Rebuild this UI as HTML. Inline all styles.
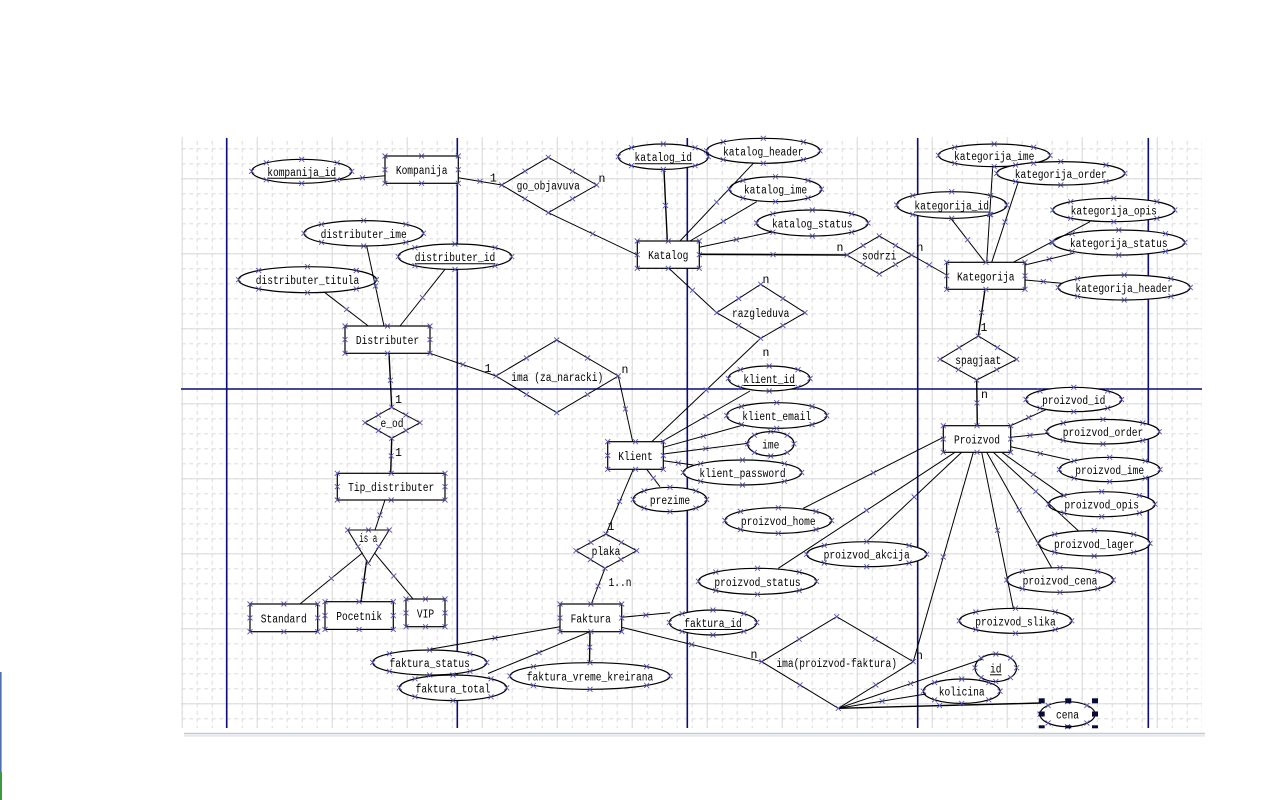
<!DOCTYPE html>
<html><head><meta charset="utf-8">
<style>
html,body{margin:0;padding:0;background:#fff;}
svg{display:block;}
text{font-family:"Liberation Mono","DejaVu Sans Mono",monospace;font-size:11.5px;fill:#000;}
.t{text-anchor:middle;}
.s{fill:#fff;stroke:#000;stroke-width:1.2;}
.dm{fill:none;stroke:#000;stroke-width:1;}
.c{stroke:#000;stroke-width:1;}
.bl{stroke:#0c0c78;stroke-width:1.6;}
.u{stroke:#000;stroke-width:1;}
</style></head>
<body>
<svg id="d" width="1280" height="800" viewBox="0 0 1280 800" xmlns="http://www.w3.org/2000/svg">
<defs>
<pattern id="gd" x="181.7" y="133.3" width="15" height="15" patternUnits="userSpaceOnUse">
<path d="M0 0.5H15" stroke="#dadada" stroke-width="1" stroke-dasharray="4 3.5"/>
<path d="M0.5 0V15" stroke="#dadada" stroke-width="1" stroke-dasharray="4 3.5"/>
</pattern>
<pattern id="gs" x="181.7" y="103.3" width="75" height="75" patternUnits="userSpaceOnUse">
<path d="M0 0.5H75M0.5 0V75" stroke="#dadada" stroke-width="1"/>
</pattern>
</defs>
<rect width="1280" height="800" fill="#fff"/>
<rect x="0" y="672" width="1.6" height="100" fill="#4f6fb0"/>
<rect x="0" y="772" width="2" height="28" fill="#3a9a3a"/>
<rect x="181" y="137" width="1021" height="591" fill="url(#gd)"/>
<rect x="181" y="137" width="1021" height="591" fill="url(#gs)"/>
<line x1="184" y1="733.5" x2="1205" y2="733.5" stroke="#c2cad6" stroke-width="1.5"/>
<line x1="184" y1="735.8" x2="1205" y2="735.8" stroke="#e6eaf0" stroke-width="2"/>
<line class="bl" x1="226.7" y1="138" x2="226.7" y2="728"/>
<line class="bl" x1="457.3" y1="138" x2="457.3" y2="728"/>
<line class="bl" x1="687.3" y1="138" x2="687.3" y2="728"/>
<line class="bl" x1="917.7" y1="138" x2="917.7" y2="728"/>
<line class="bl" x1="1148.3" y1="138" x2="1148.3" y2="728"/>
<line class="bl" x1="181" y1="389" x2="1202" y2="389"/>

<polygon class="dm" points="501.7,185 548.3,157.3 596.7,185 548.3,212.7"/>
<polygon class="dm" points="847,255 879.3,236 911.7,255 879.3,274"/>
<polygon class="dm" points="716.7,312.7 760.7,284.3 805,312.7 760.7,338.3"/>
<polygon class="dm" points="496,376 556.7,340 618.3,376 556.7,412.7"/>
<polygon class="dm" points="365,422.7 391.7,407.3 420,422.7 391.7,438.3"/>
<polygon class="dm" points="940,359.3 978.3,336 1016.7,359.3 976.7,380"/>
<polygon class="dm" points="576,550.7 606,534 636.7,550.7 605,568.3"/>
<polygon class="dm" points="761.7,661.7 836.7,616.7 913.3,661.7 838.3,708.3"/>
<polygon class="dm" points="347.7,530 389.3,530 368.3,563.3"/>

<rect class="s" x="385" y="156" width="73.3" height="27.3"/>
<rect class="s" x="345" y="326" width="85" height="27.3"/>
<rect class="s" x="337.3" y="473.3" width="107.7" height="26.7"/>
<rect class="s" x="250" y="604" width="67.7" height="27.7"/>
<rect class="s" x="325" y="601.7" width="68.3" height="27.7"/>
<rect class="s" x="406" y="599" width="39" height="27.7"/>
<rect class="s" x="637.3" y="241" width="62" height="27.3"/>
<rect class="s" x="946.7" y="262.3" width="78.3" height="27"/>
<rect class="s" x="607.7" y="441.7" width="55.6" height="27.6"/>
<rect class="s" x="560" y="604" width="61.7" height="27.7"/>
<rect class="s" x="943.3" y="425.7" width="67.4" height="26.6"/>

<ellipse class="s" cx="301.7" cy="171.3" rx="50" ry="12"/>
<ellipse class="s" cx="363.7" cy="233.3" rx="59.7" ry="12.7"/>
<ellipse class="s" cx="455" cy="256.7" rx="56.7" ry="12.7"/>
<ellipse class="s" cx="307.5" cy="279.7" rx="69" ry="13"/>
<ellipse class="s" cx="663.3" cy="156.7" rx="45" ry="12.7"/>
<ellipse class="s" cx="763.3" cy="150.8" rx="56.7" ry="12.5"/>
<ellipse class="s" cx="775.5" cy="189.2" rx="46" ry="12.5"/>
<ellipse class="s" cx="812.3" cy="223" rx="55.7" ry="13"/>
<ellipse class="s" cx="994.2" cy="155.3" rx="55.8" ry="11.3"/>
<ellipse class="s" cx="1060.8" cy="173.3" rx="64" ry="11.7"/>
<ellipse class="s" cx="951.7" cy="205" rx="55" ry="13.3"/>
<ellipse class="s" cx="1113.8" cy="210" rx="61" ry="11.7"/>
<ellipse class="s" cx="1118.8" cy="242.5" rx="66" ry="12.5"/>
<ellipse class="s" cx="1124.2" cy="287.5" rx="66" ry="12.5"/>
<ellipse class="s" cx="769.2" cy="378.5" rx="40.8" ry="12.5"/>
<ellipse class="s" cx="776.7" cy="415.5" rx="50" ry="12.8"/>
<ellipse class="s" cx="770.8" cy="443.8" rx="23.2" ry="12.2"/>
<ellipse class="s" cx="742.5" cy="472.5" rx="59.2" ry="12.5"/>
<ellipse class="s" cx="670" cy="499.5" rx="36.7" ry="12.2"/>
<ellipse class="s" cx="1073.8" cy="399.5" rx="47.8" ry="12.2"/>
<ellipse class="s" cx="1103" cy="431.7" rx="56.3" ry="12.3"/>
<ellipse class="s" cx="1109.7" cy="469.5" rx="50.3" ry="12.2"/>
<ellipse class="s" cx="1101.7" cy="504.2" rx="53.3" ry="12.5"/>
<ellipse class="s" cx="1094.2" cy="543.3" rx="55.8" ry="12.7"/>
<ellipse class="s" cx="1060" cy="580" rx="53.3" ry="12.3"/>
<ellipse class="s" cx="1015.5" cy="620.8" rx="56.2" ry="12.5"/>
<ellipse class="s" cx="778.3" cy="520.5" rx="53.3" ry="12.8"/>
<ellipse class="s" cx="866.7" cy="554.2" rx="60" ry="12.5"/>
<ellipse class="s" cx="757.5" cy="581.3" rx="59" ry="13"/>
<ellipse class="s" cx="713" cy="622.5" rx="43.7" ry="12.5"/>
<ellipse class="s" cx="429.7" cy="662.5" rx="57" ry="12.5"/>
<ellipse class="s" cx="453" cy="687.8" rx="53.7" ry="12.8"/>
<ellipse class="s" cx="590" cy="676" rx="80" ry="13.3"/>
<ellipse class="s" cx="995.8" cy="667.8" rx="20.8" ry="13.8"/>
<ellipse class="s" cx="961.7" cy="691.2" rx="38.3" ry="12.2"/>
<ellipse class="s" cx="1067.5" cy="714.2" rx="27.5" ry="12.5"/>

<line class="c" x1="340" y1="180" x2="385" y2="175.7"/>
<line class="c" x1="458.3" y1="177.7" x2="501.7" y2="185"/>
<line class="c" x1="548.3" y1="212.7" x2="637.3" y2="255"/>
<line class="c" x1="325" y1="292.7" x2="368.3" y2="326"/>
<line class="c" x1="366.7" y1="246" x2="384" y2="326"/>
<line class="c" x1="445" y1="269.3" x2="400" y2="326"/>
<line class="c" x1="430" y1="353.3" x2="496" y2="376"/>
<line class="c" x1="389" y1="353.3" x2="391.7" y2="407.3" style="stroke-width:1.4"/>
<line class="c" x1="391.7" y1="438.3" x2="390.7" y2="473.3" style="stroke-width:1.4"/>
<line class="c" x1="385" y1="500" x2="375" y2="530"/>
<line class="c" x1="362.7" y1="552.7" x2="300" y2="604"/>
<line class="c" x1="366.7" y1="560" x2="361" y2="601.7" style="stroke-width:1.4"/>
<line class="c" x1="374.3" y1="552.7" x2="413.3" y2="599.3"/>
<line class="c" x1="664" y1="170" x2="667.3" y2="241" style="stroke-width:1.4"/>
<line class="c" x1="753.3" y1="163.3" x2="680" y2="241"/>
<line class="c" x1="756.7" y1="201.7" x2="690" y2="241"/>
<line class="c" x1="773.3" y1="231.7" x2="699.3" y2="247.3"/>
<line class="c" x1="699.3" y1="254.3" x2="847" y2="255" style="stroke-width:1.6"/>
<line class="c" x1="668.3" y1="267.7" x2="716.7" y2="312.7"/>
<line class="c" x1="760.7" y1="338.3" x2="651.7" y2="441.7"/>
<line class="c" x1="911.7" y1="255" x2="946.7" y2="275"/>
<line class="c" x1="992.7" y1="166.7" x2="986.7" y2="262.3"/>
<line class="c" x1="1018.3" y1="181.7" x2="991.7" y2="262.3"/>
<line class="c" x1="950" y1="217.3" x2="985" y2="262.3"/>
<line class="c" x1="1090" y1="221.7" x2="1013.3" y2="262.3"/>
<line class="c" x1="1073.3" y1="253.3" x2="1025" y2="265"/>
<line class="c" x1="1061.7" y1="283.3" x2="1025" y2="280"/>
<line class="c" x1="985" y1="289.3" x2="978.3" y2="336" style="stroke-width:1.4"/>
<line class="c" x1="976.7" y1="380" x2="977.3" y2="425.7" style="stroke-width:1.4"/>
<line class="c" x1="618.3" y1="376" x2="632.7" y2="441.7"/>
<line class="c" x1="750" y1="391" x2="661.7" y2="441.7"/>
<line class="c" x1="743.3" y1="425" x2="663.3" y2="447.3"/>
<line class="c" x1="748.3" y1="443.3" x2="663.3" y2="454"/>
<line class="c" x1="693.3" y1="465" x2="663.3" y2="460.7"/>
<line class="c" x1="660" y1="486.7" x2="646.7" y2="469.3"/>
<line class="c" x1="633.3" y1="469.3" x2="606" y2="534"/>
<line class="c" x1="605" y1="568.3" x2="591.3" y2="604"/>
<line class="c" x1="621.7" y1="617.3" x2="670" y2="612.7"/>
<line class="c" x1="560" y1="626.7" x2="430" y2="649.3"/>
<line class="c" x1="590" y1="631.7" x2="488" y2="673.5"/>
<line class="c" x1="590" y1="631.7" x2="589.5" y2="662.7" style="stroke-width:1.4"/>
<line class="c" x1="621.7" y1="627.3" x2="761.7" y2="661.7"/>
<line class="c" x1="1010.7" y1="425.7" x2="1046.7" y2="409.3"/>
<line class="c" x1="1010.7" y1="437.3" x2="1049.3" y2="433.3"/>
<line class="c" x1="1010.7" y1="446.7" x2="1070" y2="460"/>
<line class="c" x1="1001.7" y1="452.3" x2="1065" y2="496.7"/>
<line class="c" x1="993.3" y1="452.3" x2="1078.3" y2="530.7"/>
<line class="c" x1="986.7" y1="452.3" x2="1051.7" y2="567.7"/>
<line class="c" x1="981.7" y1="452.3" x2="1013.3" y2="608.3"/>
<line class="c" x1="973.3" y1="452.3" x2="913.3" y2="661.7"/>
<line class="c" x1="943.3" y1="437.3" x2="803.3" y2="508.3"/>
<line class="c" x1="955" y1="452.3" x2="778.3" y2="568.3"/>
<line class="c" x1="961.7" y1="452.3" x2="866.7" y2="541.7"/>
<line class="c" x1="838.3" y1="708.3" x2="983" y2="659"/>
<line class="c" x1="838.3" y1="708.3" x2="926" y2="694"/>
<line class="c" x1="838.3" y1="708.3" x2="1041" y2="703" style="stroke-width:1.4"/>

<text class="t" x="421.7" y="174.2" textLength="51.75" lengthAdjust="spacingAndGlyphs">Kompanija</text>
<text class="t" x="387.5" y="344.2" textLength="63.25" lengthAdjust="spacingAndGlyphs">Distributer</text>
<text class="t" x="391.2" y="491.2" textLength="86.25" lengthAdjust="spacingAndGlyphs">Tip_distributer</text>
<text class="t" x="283.8" y="622.3" textLength="46" lengthAdjust="spacingAndGlyphs">Standard</text>
<text class="t" x="359.2" y="620" textLength="46" lengthAdjust="spacingAndGlyphs">Pocetnik</text>
<text class="t" x="425.5" y="617.3" textLength="17.25" lengthAdjust="spacingAndGlyphs">VIP</text>
<text class="t" x="668.3" y="259.2" textLength="40.25" lengthAdjust="spacingAndGlyphs">Katalog</text>
<text class="t" x="985.8" y="280.3" textLength="57.5" lengthAdjust="spacingAndGlyphs">Kategorija</text>
<text class="t" x="635.5" y="460" textLength="34.5" lengthAdjust="spacingAndGlyphs">Klient</text>
<text class="t" x="590.8" y="622.3" textLength="40.25" lengthAdjust="spacingAndGlyphs">Faktura</text>
<text class="t" x="977" y="443.5" textLength="46" lengthAdjust="spacingAndGlyphs">Proizvod</text>

<text class="t" x="548.3" y="189.5" textLength="63.25" lengthAdjust="spacingAndGlyphs">go_objavuva</text>
<text class="t" x="879.3" y="259.5" textLength="34.5" lengthAdjust="spacingAndGlyphs">sodrzi</text>
<text class="t" x="760.7" y="317.2" textLength="57.5" lengthAdjust="spacingAndGlyphs">razgleduva</text>
<text class="t" x="557.3" y="380.8" textLength="92" lengthAdjust="spacingAndGlyphs">ima (za_naracki)</text>
<text class="t" x="392" y="427.2" textLength="23" lengthAdjust="spacingAndGlyphs">e_od</text>
<text class="t" x="978.3" y="363.8" textLength="46" lengthAdjust="spacingAndGlyphs">spagjaat</text>
<text class="t" x="606" y="555.2" textLength="28.75" lengthAdjust="spacingAndGlyphs">plaka</text>
<text class="t" x="836.7" y="667" textLength="120.75" lengthAdjust="spacingAndGlyphs">ima(proizvod-faktura)</text>
<text class="t" x="368.3" y="542" textLength="18" lengthAdjust="spacingAndGlyphs">is a</text>

<text class="t" x="301.7" y="175.8" textLength="69" lengthAdjust="spacingAndGlyphs">kompanija_id</text>
<text class="t" x="363.7" y="237.8" textLength="86.25" lengthAdjust="spacingAndGlyphs">distributer_ime</text>
<text class="t" x="455" y="261.2" textLength="80.5" lengthAdjust="spacingAndGlyphs">distributer_id</text>
<text class="t" x="307.5" y="284.2" textLength="103.5" lengthAdjust="spacingAndGlyphs">distributer_titula</text>
<text class="t" x="663.3" y="161.2" textLength="57.5" lengthAdjust="spacingAndGlyphs">katalog_id</text>
<text class="t" x="763.3" y="155.3" textLength="80.5" lengthAdjust="spacingAndGlyphs">katalog_header</text>
<text class="t" x="775.5" y="193.7" textLength="63.25" lengthAdjust="spacingAndGlyphs">katalog_ime</text>
<text class="t" x="812.3" y="227.5" textLength="80.5" lengthAdjust="spacingAndGlyphs">katalog_status</text>
<text class="t" x="994.2" y="159.8" textLength="80.5" lengthAdjust="spacingAndGlyphs">kategorija_ime</text>
<text class="t" x="1060.8" y="177.8" textLength="92" lengthAdjust="spacingAndGlyphs">kategorija_order</text>
<text class="t" x="951.7" y="209.5" textLength="74.75" lengthAdjust="spacingAndGlyphs">kategorija_id</text>
<text class="t" x="1113.8" y="214.5" textLength="86.25" lengthAdjust="spacingAndGlyphs">kategorija_opis</text>
<text class="t" x="1118.8" y="247" textLength="97.75" lengthAdjust="spacingAndGlyphs">kategorija_status</text>
<text class="t" x="1124.2" y="292" textLength="97.75" lengthAdjust="spacingAndGlyphs">kategorija_header</text>
<text class="t" x="769.2" y="383" textLength="51.75" lengthAdjust="spacingAndGlyphs">klient_id</text>
<text class="t" x="776.7" y="420" textLength="69" lengthAdjust="spacingAndGlyphs">klient_email</text>
<text class="t" x="770.8" y="448.3" textLength="17.25" lengthAdjust="spacingAndGlyphs">ime</text>
<text class="t" x="742.5" y="477" textLength="86.25" lengthAdjust="spacingAndGlyphs">klient_password</text>
<text class="t" x="670" y="504" textLength="40.25" lengthAdjust="spacingAndGlyphs">prezime</text>
<text class="t" x="1073.8" y="404" textLength="63.25" lengthAdjust="spacingAndGlyphs">proizvod_id</text>
<text class="t" x="1103" y="436.2" textLength="80.5" lengthAdjust="spacingAndGlyphs">proizvod_order</text>
<text class="t" x="1109.7" y="474" textLength="69" lengthAdjust="spacingAndGlyphs">proizvod_ime</text>
<text class="t" x="1101.7" y="508.7" textLength="74.75" lengthAdjust="spacingAndGlyphs">proizvod_opis</text>
<text class="t" x="1094.2" y="547.8" textLength="80.5" lengthAdjust="spacingAndGlyphs">proizvod_lager</text>
<text class="t" x="1060" y="584.5" textLength="74.75" lengthAdjust="spacingAndGlyphs">proizvod_cena</text>
<text class="t" x="1015.5" y="625.3" textLength="80.5" lengthAdjust="spacingAndGlyphs">proizvod_slika</text>
<text class="t" x="778.3" y="525" textLength="74.75" lengthAdjust="spacingAndGlyphs">proizvod_home</text>
<text class="t" x="866.7" y="558.7" textLength="86.25" lengthAdjust="spacingAndGlyphs">proizvod_akcija</text>
<text class="t" x="757.5" y="585.8" textLength="86.25" lengthAdjust="spacingAndGlyphs">proizvod_status</text>
<text class="t" x="713" y="627" textLength="57.5" lengthAdjust="spacingAndGlyphs">faktura_id</text>
<text class="t" x="429.7" y="667" textLength="80.5" lengthAdjust="spacingAndGlyphs">faktura_status</text>
<text class="t" x="453" y="692.3" textLength="74.75" lengthAdjust="spacingAndGlyphs">faktura_total</text>
<text class="t" x="590" y="680.5" textLength="126.5" lengthAdjust="spacingAndGlyphs">faktura_vreme_kreirana</text>
<text class="t" x="995.8" y="672.3" textLength="11.5" lengthAdjust="spacingAndGlyphs">id</text>
<text class="t" x="961.7" y="695.7" textLength="46" lengthAdjust="spacingAndGlyphs">kolicina</text>
<text class="t" x="1067.5" y="718.7" textLength="23" lengthAdjust="spacingAndGlyphs">cena</text>

<line class="u" x1="267.2" y1="178.3" x2="336.2" y2="178.3"/>
<line class="u" x1="414.8" y1="263.7" x2="495.3" y2="263.7"/>
<line class="u" x1="634.6" y1="163.7" x2="692.1" y2="163.7"/>
<line class="u" x1="914.3" y1="212" x2="989.1" y2="212"/>
<line class="u" x1="743.3" y1="385.5" x2="795.1" y2="385.5"/>
<line class="u" x1="684.3" y1="629.5" x2="741.8" y2="629.5"/>
<line class="u" x1="990" y1="674.8" x2="1001.6" y2="674.8"/>

<text class="t" x="493.3" y="181.5">1</text>
<text class="t" x="602" y="182">n</text>
<text class="t" x="840" y="251">n</text>
<text class="t" x="920" y="251">n</text>
<text class="t" x="766" y="283">n</text>
<text class="t" x="766" y="356">n</text>
<text class="t" x="488" y="372">1</text>
<text class="t" x="625" y="373">n</text>
<text class="t" x="984" y="331">1</text>
<text class="t" x="984.5" y="398">n</text>
<text class="t" x="398.5" y="403">1</text>
<text class="t" x="398.5" y="456">1</text>
<text class="t" x="611" y="530">1</text>
<text class="t" x="620" y="586" textLength="23" lengthAdjust="spacingAndGlyphs">1..n</text>
<text class="t" x="754" y="658">n</text>
<text class="t" x="919.5" y="659">n</text>

<path id="mk" d="" fill="none" stroke="#5858b0" stroke-width="0.9"/>

<g fill="#0a0a3a">
<rect x="1038.7" y="698.3" width="6" height="5"/>
<rect x="1065.3" y="698.3" width="6" height="5"/>
<rect x="1092" y="698.3" width="6" height="5"/>
<rect x="1038.7" y="711.5" width="6" height="5"/>
<rect x="1092" y="711.5" width="6" height="5"/>
<rect x="1038.7" y="725.3" width="6" height="3"/>
<rect x="1065.3" y="725.3" width="6" height="3"/>
<rect x="1092" y="725.3" width="6" height="3"/>
</g>
</svg>
<script>
(function(){
var d='';
function X(x,y){d+='M'+(x-2.5).toFixed(1)+' '+(y-2.5).toFixed(1)+'l5 5m0 -5l-5 5';}
function n(e,a){return parseFloat(e.getAttribute(a));}
var svg=document.getElementById('d');
svg.querySelectorAll('ellipse.s').forEach(function(e){
var cx=n(e,'cx'),cy=n(e,'cy'),rx=n(e,'rx'),ry=n(e,'ry'),k=0.707;
X(cx-rx,cy);X(cx+rx,cy);X(cx,cy-ry);X(cx,cy+ry);
X(cx-rx*k,cy-ry*k);X(cx+rx*k,cy-ry*k);X(cx-rx*k,cy+ry*k);X(cx+rx*k,cy+ry*k);
});
svg.querySelectorAll('rect.s').forEach(function(e){
var x=n(e,'x'),y=n(e,'y'),w=n(e,'width'),h=n(e,'height');
X(x,y);X(x+w,y);X(x,y+h);X(x+w,y+h);X(x+w/2,y);X(x+w/2,y+h);X(x,y+h/2);X(x+w,y+h/2);
});
svg.querySelectorAll('polygon.dm').forEach(function(e){
var p=e.getAttribute('points').trim().split(/\s+/).map(function(s){return s.split(',').map(parseFloat);});
for(var i=0;i<p.length;i++){var a=p[i],b=p[(i+1)%p.length];X(a[0],a[1]);X((a[0]+b[0])/2,(a[1]+b[1])/2);}
});
svg.querySelectorAll('line.c').forEach(function(e){
X((n(e,'x1')+n(e,'x2'))/2,(n(e,'y1')+n(e,'y2'))/2);
});
document.getElementById('mk').setAttribute('d',d);
})();
</script>
</body></html>
